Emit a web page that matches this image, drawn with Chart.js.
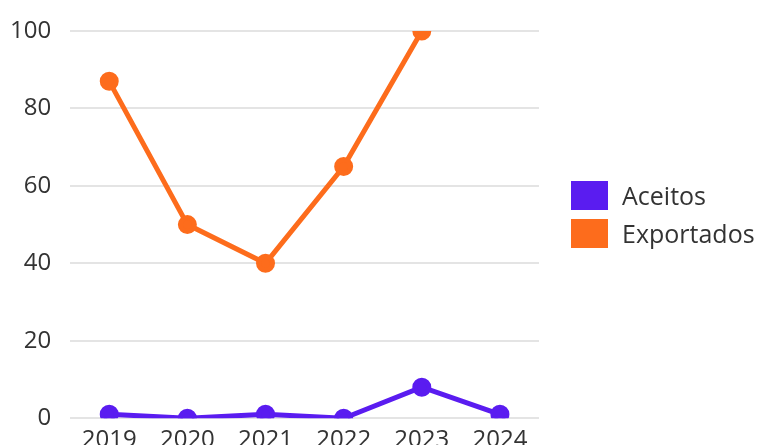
<!DOCTYPE html>
<html>
<head>
<meta charset="utf-8">
<script src="https://cdn.jsdelivr.net/npm/chart.js@4"></script>
<style>
  html, body { margin:0; padding:0; background:#fff; overflow:hidden; }
  #wrap { width:761px; height:455px; position:relative; }
  .legend { position:absolute; left:571px; top:176px; font-family:"Open Sans","Noto Sans",sans-serif;
            font-size:25px; color:#333; }
  .legend div { display:flex; align-items:center; height:38px; }
  .legend span.box { display:inline-block; width:37px; height:29px; margin-right:14px; }
</style>
</head>
<body>
<div id="wrap">
  <canvas id="chart"></canvas>
  <div class="legend" id="legend"></div>
</div>
<script>
// data
const years = ['2019','2020','2021','2022','2023','2024']
const aceitos = [1, 0, 1, 0, 8, 1]
const exportados = [87, 50, 40, 65, 100, null]
const yTicks = [0, 20, 40, 60, 80, 100]

const PURPLE = '#5a1cf0'
const ORANGE = '#fd6c1c'

Chart.defaults.font.family = '"Open Sans", "Noto Sans", sans-serif'

const ctx = document.getElementById('chart')
const chart = new Chart(ctx, {
  type: 'line',
  data: {
    labels: years,
    datasets: [
      { label: 'Aceitos', data: aceitos, borderColor: PURPLE, backgroundColor: PURPLE,
        borderWidth: 5, pointRadius: 7, pointHoverRadius: 7, tension: 0 },
      { label: 'Exportados', data: exportados, borderColor: ORANGE, backgroundColor: ORANGE,
        borderWidth: 5, pointRadius: 7, pointHoverRadius: 7, tension: 0 }
    ]
  },
  options: {
    responsive: true,
    maintainAspectRatio: false,
    animation: false,
    layout: { padding: { top: 26, left: -9, right: 222, bottom: 0 } },
    plugins: {
      tooltip: { enabled: false },
      legend: { display: false }
    },
    scales: {
      x: {
        offset: true,
        grid: { display: false },
        border: { display: false },
        ticks: { color: '#333', font: { size: 24 }, padding: 0, maxRotation: 0 }
      },
      y: {
        min: 0, max: 100,
        afterBuildTicks: axis => { axis.ticks = yTicks.map(v => ({ value: v })) },
        grid: { color: '#e4e4e4', lineWidth: 2, drawTicks: false },
        border: { display: false },
        ticks: { color: '#333', font: { size: 24, lineHeight: 1 }, padding: 19 }
      }
    }
  }
})

// legend drawn as html next to the plot
document.getElementById('legend').innerHTML = chart.data.datasets
  .map(d => `<div><span class="box" style="background:${d.borderColor}"></span>${d.label}</div>`).join('')
</script>
</body>
</html>
